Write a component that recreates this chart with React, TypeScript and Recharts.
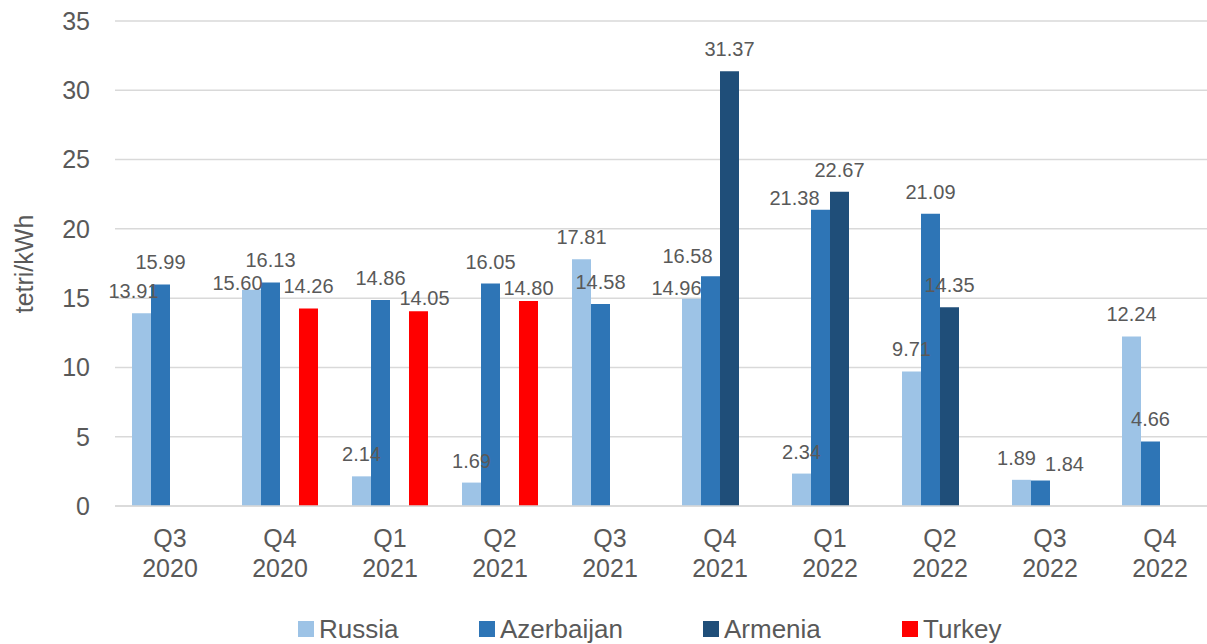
import React from 'react';
import { BarChart, Bar, XAxis, YAxis, CartesianGrid, Legend, LabelList, Label } from 'recharts';

// quarters shown on the x axis
const quarters = ['Q3 2020', 'Q4 2020', 'Q1 2021', 'Q2 2021', 'Q3 2021', 'Q4 2021', 'Q1 2022', 'Q2 2022', 'Q3 2022', 'Q4 2022'];

// tetri/kWh per supplier (null = no import that quarter)
const russia = [13.91, 15.6, 2.14, 1.69, 17.81, 14.96, 2.34, 9.71, 1.89, 12.24];
const azerbaijan = [15.99, 16.13, 14.86, 16.05, 14.58, 16.58, 21.38, 21.09, 1.84, 4.66];
const armenia = [null, null, null, null, null, 31.37, 22.67, 14.35, null, null];
const turkey = [null, 14.26, 14.05, 14.8, null, null, null, null, null, null];

const yTicks = [0, 5, 10, 15, 20, 25, 30, 35];

const FONT = '"Liberation Sans", Arial, sans-serif';
const TEXT = '#595959';

const series = [
  { key: 'Russia', color: '#9DC3E6' },
  { key: 'Azerbaijan', color: '#2E75B6' },
  { key: 'Armenia', color: '#1F4E79' },
  { key: 'Turkey', color: '#FF0000' },
];

// legend entry left edges, as laid out in the original
const legendLeft = [298, 479, 703, 902];

// hand-placed label nudges, like the original sheet (dx = shift, gap = space above bar)
const labelNudge: Record<string, Record<number, { dx?: number; gap?: number }>> = {
  Russia: { 0: { dx: -8 }, 1: { dx: -14, gap: 0 }, 5: { dx: -15, gap: 4 }, 8: { dx: -5 } },
  Azerbaijan: { 5: { dx: -23, gap: 13 }, 6: { dx: -26, gap: 5 }, 8: { dx: 24, gap: 10 } },
  Armenia: { 5: { gap: 19 }, 6: { gap: 18 }, 7: { dx: 23, gap: 9 } },
  Turkey: { 1: { dx: 6, gap: 6 }, 2: { gap: 6 }, 3: { dx: -2, gap: 0 } },
};

const data = quarters.map((q, i) => ({
  quarter: q,
  Russia: russia[i],
  Azerbaijan: azerbaijan[i],
  Armenia: armenia[i],
  Turkey: turkey[i],
}));

const makeLabel = (key: string) => (props: any) => {
  const { x, y, width, value, index } = props;
  if (value === null || value === undefined) return null;
  const n = labelNudge[key]?.[index] || {};
  const dx = n.dx ?? 0;
  const gap = n.gap ?? 15;
  return (
    <text
      x={Number(x) + Number(width) / 2 + dx}
      y={Number(y) - gap}
      textAnchor="middle"
      fontSize={20}
      fontFamily={FONT}
      fill={TEXT}
    >
      {Number(value).toFixed(2)}
    </text>
  );
};

const QuarterTick = (props: any) => {
  const { x, y, payload } = props;
  const [q, yr] = String(payload.value).split(' ');
  return (
    <g>
      <text x={x} y={y + 41} textAnchor="middle" fontSize={25} fontFamily={FONT} fill={TEXT}>
        {q}
      </text>
      <text x={x} y={y + 71} textAnchor="middle" fontSize={25} fontFamily={FONT} fill={TEXT}>
        {yr}
      </text>
    </g>
  );
};

const renderLegend = () => (
  <div style={{ height: 30, position: 'relative' }}>
    {series.map((s, i) => (
      <div
        key={s.key}
        style={{ position: 'absolute', left: legendLeft[i], top: 0, height: 30, display: 'flex', alignItems: 'center', gap: 5 }}
      >
        <div style={{ width: 16, height: 16, background: s.color }} />
        <span style={{ fontSize: 26, fontFamily: FONT, color: TEXT, lineHeight: '30px', whiteSpace: 'nowrap' }}>{s.key}</span>
      </div>
    ))}
  </div>
);

export default function App() {
  return (
    <div style={{ position: 'absolute', left: 0, top: 0, width: 1207, height: 644, overflow: 'hidden', background: '#fff' }}>
      <BarChart
        width={1217}
        height={644}
        data={data}
        margin={{ top: 21, right: 2, left: 0, bottom: 0 }}
        barCategoryGap={17}
        barGap={0}
      >
        <CartesianGrid vertical={false} stroke="#D9D9D9" strokeWidth={1.5} />
        <XAxis
          dataKey="quarter"
          height={108}
          axisLine={{ stroke: '#D9D9D9', strokeWidth: 1.5 }}
          tickLine={false}
          tickSize={0}
          tickMargin={0}
          interval={0}
          tick={<QuarterTick />}
        />
        <YAxis
          width={115}
          domain={[0, 35]}
          ticks={yTicks}
          axisLine={false}
          tickLine={false}
          tickSize={0}
          tickMargin={25}
          tick={{ fontSize: 25, fontFamily: FONT, fill: TEXT }}
        >
          <Label
            content={() => (
              <text
                transform="translate(24,264) rotate(-90)"
                textAnchor="middle"
                dominantBaseline="central"
                fontSize={25}
                fontFamily={FONT}
                fill={TEXT}
              >
                tetri/kWh
              </text>
            )}
          />
        </YAxis>
        <Legend verticalAlign="bottom" height={30} content={renderLegend} wrapperStyle={{ left: 0, width: 1217 }} />
        {series.map((s) => (
          <Bar key={s.key} dataKey={s.key} name={s.key} fill={s.color} isAnimationActive={false}>
            <LabelList dataKey={s.key} content={makeLabel(s.key)} />
          </Bar>
        ))}
      </BarChart>
    </div>
  );
}
